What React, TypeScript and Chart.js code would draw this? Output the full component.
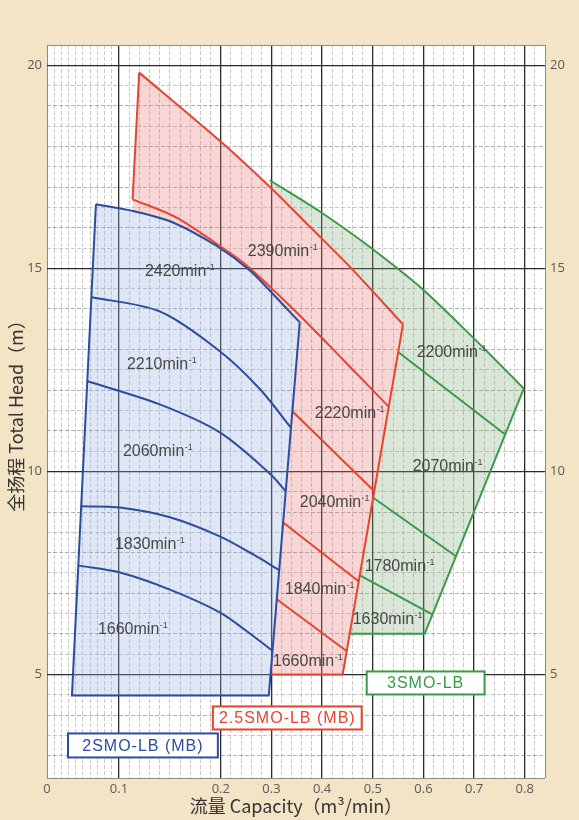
import React, { useEffect, useRef } from 'react';
import { Chart, registerables, LinearScale } from 'chart.js';

// ---------------- axis ticks ----------------
const xTickValues = [0, 0.1, 0.2, 0.3, 0.4, 0.5, 0.6, 0.7, 0.8];
const xTickLabels = ['0', '0.1', '0.2', '0.3', '0.4', '0.5', '0.6', '0.7', '0.8'];
const yTickValues = [5, 10, 15, 20];
const yTickLabels = ['5', '10', '15', '20'];
const xMin = 0;
const xMax = 0.84;
const yMin = 2.45;
const yMax = 20.5;

// the capacity axis of this chart paper is not uniform: relative length of each stretch
const xBreakValues = [0, 0.1, 0.2, 0.84];
const xBreakLengths = [0, 72, 174, 498.5];

// ---------------- 2SMO-LB (MB) ----------------
const blue2420 = [[0.068, 16.58], [0.114, 16.41], [0.153, 16.13], [0.196, 15.55], [0.2572, 14.95], [0.3065, 14.32], [0.3558, 13.67]];
const blue2210 = [[0.0622, 14.29], [0.14, 13.94], [0.199, 12.96], [0.277, 12.03], [0.3394, 11.06]];
const blue2060 = [[0.0565, 12.22], [0.14, 11.65], [0.199, 10.96], [0.2966, 9.95], [0.3282, 9.51]];
const blue1830 = [[0.0475, 9.14], [0.101, 9.11], [0.15, 8.87], [0.199, 8.4], [0.2631, 7.96], [0.3164, 7.56]];
const blue1660 = [[0.0436, 7.68], [0.101, 7.51], [0.15, 7.09], [0.199, 6.53], [0.2507, 6.07], [0.301, 5.59]];
const blueFrame = [[0.068, 16.58], [0.0347, 4.48], [0.2947, 4.48], [0.3558, 13.67]];
const blueRpm: [string, number, number][] = [['2420', 0.1255, 14.93], ['2210', 0.1078, 12.64], ['2060', 0.1039, 10.49], ['1830', 0.0944, 8.2], ['1660', 0.0708, 6.11]];

// ---------------- 2.5SMO-LB (MB) ----------------
const red2390 = [[0.1199, 19.82], [0.199, 18.14], [0.298, 16.99], [0.3755, 16.03], [0.4578, 15.0], [0.5596, 13.62]];
const red2220 = [[0.1134, 16.7], [0.1566, 16.25], [0.199, 15.55], [0.2513, 15.07], [0.3558, 13.84], [0.4406, 12.76], [0.531, 11.6]];
const red2040 = [[0.3412, 11.48], [0.503, 9.51]];
const red1840 = [[0.3231, 8.74], [0.4724, 7.29]];
const red1660 = [[0.3105, 6.85], [0.4487, 5.57]];
const redLeft = [[0.1199, 19.82], [0.1134, 16.7]];
const redFrame = [[0.5596, 13.62], [0.4406, 5.0], [0.298, 5.0]];
const redRpm: [string, number, number][] = [['2390', 0.2533, 15.42], ['2220', 0.3854, 11.43], ['2040', 0.3558, 9.24], ['1840', 0.3262, 7.09], ['1660', 0.3026, 5.32]];

// ---------------- 3SMO-LB ----------------
const green2200 = [[0.2966, 17.17], [0.3953, 16.4], [0.4742, 15.71], [0.5465, 15.02], [0.599, 14.48], [0.6714, 13.62], [0.737, 12.81], [0.798, 12.04]];
const green2070 = [[0.55, 12.94], [0.7615, 10.91]];
const green1780 = [[0.5008, 9.35], [0.6643, 7.91]];
const green1630 = [[0.4744, 7.44], [0.6175, 6.48]];
const greenFrame = [[0.798, 12.04], [0.6024, 6.0], [0.4546, 6.0]];
const greenRpm: [string, number, number][] = [['2200', 0.5866, 12.93], ['2070', 0.5787, 10.12], ['1780', 0.484, 7.66], ['1630', 0.4604, 6.35]];

// ---------------- model tags (x0, x1, y0, y1 in axis units) ----------------
const modelNames = ['2SMO-LB (MB)', '2.5SMO-LB (MB)', '3SMO-LB'];
const modelTagBoxes = [[0.0292, 0.1971, 2.956, 3.547], [0.1922, 0.4781, 3.645, 4.212], [0.488, 0.7207, 4.507, 5.074]];

// ---------------- styles ----------------
const BLUE = '#2b4c9f';
const RED = '#e8432f';
const GREEN = '#3a9b47';
const BLUE_FILL = 'rgba(150,175,225,0.3)';
const RED_FILL = 'rgba(232,120,120,0.3)';
const GREEN_FILL = 'rgba(130,172,125,0.3)';
const PAPER = '#f2e4c4';
const LABEL_FONT = '"Liberation Sans", Arial, sans-serif';
const CJK_FONT = '"Noto Sans CJK SC", "Noto Sans", sans-serif';

// ---------------- piecewise capacity scale ----------------
const totalLen = xBreakLengths[xBreakLengths.length - 1];
function xToFrac(v: number): number {
  const n = xBreakValues.length;
  let i = 1;
  while (i < n - 1 && v > xBreakValues[i]) i++;
  const t = (v - xBreakValues[i - 1]) / (xBreakValues[i] - xBreakValues[i - 1]);
  return (xBreakLengths[i - 1] + t * (xBreakLengths[i] - xBreakLengths[i - 1])) / totalLen;
}
function fracToX(f: number): number {
  const L = f * totalLen;
  const n = xBreakLengths.length;
  let i = 1;
  while (i < n - 1 && L > xBreakLengths[i]) i++;
  const t = (L - xBreakLengths[i - 1]) / (xBreakLengths[i] - xBreakLengths[i - 1]);
  return xBreakValues[i - 1] + t * (xBreakValues[i] - xBreakValues[i - 1]);
}

class PaperScale extends LinearScale {
  static id = 'paperCapacity';
  getPixelForValue(value: any) {
    if (value === null || value === undefined || Number.isNaN(+value)) return NaN;
    return this.getPixelForDecimal(xToFrac(+value));
  }
  getValueForPixel(pixel: number) {
    return fracToX(this.getDecimalForPixel(pixel));
  }
}

Chart.register(...registerables, PaperScale);

// grid values of the chart paper
const xGridValues: number[] = [];
for (let i = 0; i <= 20; i++) xGridValues.push(+(i * 0.01).toFixed(3));
for (let i = 11; i <= 42; i++) xGridValues.push(+(i * 0.02).toFixed(3));
const yGridValues: number[] = [yMin];
for (let v = 3; v <= yMax + 1e-9; v += 0.5) yGridValues.push(v);

const near = (a: number, b: number) => Math.abs(a - b) < 1e-6;
const xKind = (v: number) =>
  near(v, xMin) || near(v, xMax) ? 'frame' : xTickValues.some((t) => near(t, v)) ? 'major' : 'minor';
const yKind = (v: number) =>
  near(v, yMin) || near(v, yMax) ? 'frame' : yTickValues.some((t) => near(t, v)) ? 'major' : Number.isInteger(v) ? 'unit' : 'minor';

const gridColor = (k: string) =>
  k === 'major' ? '#2a2a2a' : k === 'frame' ? '#8a8a8a' : k === 'unit' ? 'rgba(100,100,100,0.5)' : 'rgba(120,120,120,0.4)';
const gridWidth = (k: string) => (k === 'major' ? 1.3 : 1);
const gridDash = (k: string) => (k === 'major' || k === 'frame' ? [] : [4, 2]);

const toPts = (arr: number[][]) => arr.map(([x, y]) => ({ x, y }));

function lineDs(arr: number[][], color: string, order: number, curved: boolean) {
  return {
    data: toPts(arr),
    borderColor: color,
    backgroundColor: color,
    borderWidth: 2,
    fill: false,
    pointRadius: 0,
    pointHitRadius: 0,
    tension: curved ? 0.3 : 0,
    order,
  };
}
function areaDs(arr: number[][], fillColor: string, order: number) {
  return {
    data: toPts(arr),
    borderColor: 'rgba(0,0,0,0)',
    backgroundColor: fillColor,
    borderWidth: 0,
    fill: 'shape',
    pointRadius: 0,
    pointHitRadius: 0,
    tension: 0,
    order,
  };
}

const blueArea = [...blue2420, blueFrame[2], blueFrame[1]];
const redArea = [
  ...red2390,
  redFrame[1],
  redFrame[2],
  ...blue2420.filter((p) => p[0] >= 0.114).slice().reverse(),
  red2220[0],
];
const greenArea = [
  ...green2200,
  greenFrame[1],
  greenFrame[2],
  ...red2390.filter((p) => p[0] >= 0.298).slice().reverse(),
];

const paperPlugin = {
  id: 'paperBackground',
  beforeDraw(chart: any) {
    const { ctx, chartArea: a } = chart;
    ctx.save();
    ctx.fillStyle = PAPER;
    ctx.fillRect(0, 0, chart.width, chart.height);
    ctx.fillStyle = '#ffffff';
    ctx.fillRect(a.left, a.top, a.right - a.left, a.bottom - a.top);
    ctx.restore();
  },
};

const textPlugin = {
  id: 'curveTexts',
  afterDatasetsDraw(chart: any) {
    const { ctx } = chart;
    const xs = chart.scales.x;
    const ys = chart.scales.y;
    ctx.save();
    const all = [...blueRpm, ...redRpm, ...greenRpm];
    for (const [rpm, vx, vy] of all) {
      const px = xs.getPixelForValue(vx);
      const py = ys.getPixelForValue(vy);
      ctx.fillStyle = '#474747';
      ctx.textAlign = 'left';
      ctx.textBaseline = 'middle';
      ctx.font = `16px ${LABEL_FONT}`;
      const main = rpm + 'min';
      ctx.fillText(main, px, py);
      const w = ctx.measureText(main).width;
      ctx.font = `9px ${LABEL_FONT}`;
      ctx.fillText('-1', px + w + 0.5, py - 4);
    }
    const colors = [BLUE, RED, GREEN];
    modelTagBoxes.forEach((b, i) => {
      const x0 = xs.getPixelForValue(b[0]);
      const x1 = xs.getPixelForValue(b[1]);
      const y0 = ys.getPixelForValue(b[2]);
      const y1 = ys.getPixelForValue(b[3]);
      ctx.fillStyle = '#ffffff';
      ctx.fillRect(x0, y1, x1 - x0, y0 - y1);
      ctx.strokeStyle = colors[i];
      ctx.lineWidth = 2;
      ctx.strokeRect(x0, y1, x1 - x0, y0 - y1);
      ctx.fillStyle = colors[i];
      ctx.font = `16px ${LABEL_FONT}`;
      try {
        (ctx as any).letterSpacing = '1px';
      } catch (e) {}
      ctx.textAlign = 'center';
      ctx.textBaseline = 'middle';
      ctx.fillText(modelNames[i], (x0 + x1) / 2, (y0 + y1) / 2 + 1);
      try {
        (ctx as any).letterSpacing = '0px';
      } catch (e) {}
    });
    ctx.restore();
  },
};

export default function App() {
  const ref = useRef<HTMLCanvasElement>(null);
  useEffect(() => {
    const canvas = ref.current;
    if (!canvas) return;
    const datasets: any[] = [
      areaDs(greenArea, GREEN_FILL, 60),
      areaDs(redArea, RED_FILL, 50),
      areaDs(blueArea, BLUE_FILL, 40),
      lineDs(green2200, GREEN, 30, true),
      lineDs(green2070, GREEN, 30, false),
      lineDs(green1780, GREEN, 30, false),
      lineDs(green1630, GREEN, 30, false),
      lineDs(greenFrame, GREEN, 30, false),
      lineDs(red2390, RED, 20, true),
      lineDs(red2220, RED, 20, true),
      lineDs(red2040, RED, 20, false),
      lineDs(red1840, RED, 20, false),
      lineDs(red1660, RED, 20, false),
      lineDs(redLeft, RED, 20, false),
      lineDs(redFrame, RED, 20, false),
      lineDs(blue2420, BLUE, 10, true),
      lineDs(blue2210, BLUE, 10, true),
      lineDs(blue2060, BLUE, 10, true),
      lineDs(blue1830, BLUE, 10, true),
      lineDs(blue1660, BLUE, 10, true),
      lineDs(blueFrame, BLUE, 10, false),
    ];
    const tickFont = { family: '"Open Sans", "Noto Sans", sans-serif', size: 13 };
    const chart = new Chart(canvas, {
      type: 'line',
      data: { datasets },
      options: {
        responsive: false,
        animation: false,
        layout: { padding: { top: 45, left: 0, right: 0, bottom: 0 } },
        plugins: { legend: { display: false }, tooltip: { enabled: false } },
        elements: { point: { radius: 0 } },
        scales: {
          x: {
            type: 'paperCapacity' as any,
            min: xMin,
            max: xMax,
            afterBuildTicks: (s: any) => {
              s.ticks = xGridValues.map((v) => ({ value: v }));
            },
            afterFit: (s: any) => {
              s.height = 42;
            },
            grid: {
              drawTicks: false,
              color: (c: any) => gridColor(xKind(c.tick ? c.tick.value : 0)),
              lineWidth: (c: any) => gridWidth(xKind(c.tick ? c.tick.value : 0)),
            },
            border: {
              display: false,
              dash: (c: any) => gridDash(xKind(c.tick ? c.tick.value : 0)),
            },
            ticks: {
              autoSkip: false,
              maxRotation: 0,
              minRotation: 0,
              padding: 3,
              color: '#5a5a5a',
              font: tickFont,
              callback: (v: any) => {
                const i = xTickValues.findIndex((t) => near(t, Number(v)));
                return i >= 0 ? xTickLabels[i] : '';
              },
            },
            title: {
              display: true,
              text: '流量 Capacity（m³/min）',
              color: '#333333',
              font: { family: CJK_FONT, size: 18 },
              padding: { top: 0, bottom: 3 },
            },
          },
          y: {
            type: 'linear',
            position: 'left',
            min: yMin,
            max: yMax,
            afterBuildTicks: (s: any) => {
              s.ticks = yGridValues.map((v) => ({ value: v }));
            },
            afterFit: (s: any) => {
              s.width = 47;
            },
            grid: {
              drawTicks: false,
              color: (c: any) => gridColor(yKind(c.tick ? c.tick.value : 0)),
              lineWidth: (c: any) => gridWidth(yKind(c.tick ? c.tick.value : 0)),
            },
            border: {
              display: false,
              dash: (c: any) => gridDash(yKind(c.tick ? c.tick.value : 0)),
            },
            ticks: {
              autoSkip: false,
              padding: 5,
              color: '#5a5a5a',
              font: tickFont,
              callback: (v: any) => {
                const i = yTickValues.findIndex((t) => near(t, Number(v)));
                return i >= 0 ? yTickLabels[i] : '';
              },
            },
            title: {
              display: true,
              text: '全扬程 Total Head（m）',
              color: '#333333',
              font: { family: CJK_FONT, size: 18 },
              padding: { top: 5, bottom: 0 },
            },
          },
          y2: {
            type: 'linear',
            position: 'right',
            min: yMin,
            max: yMax,
            afterBuildTicks: (s: any) => {
              s.ticks = yTickValues.map((v) => ({ value: v }));
            },
            afterFit: (s: any) => {
              s.width = 34;
            },
            grid: { drawOnChartArea: false, drawTicks: false },
            border: { display: false },
            ticks: {
              autoSkip: false,
              padding: 5,
              color: '#5a5a5a',
              font: tickFont,
              callback: (v: any) => {
                const i = yTickValues.findIndex((t) => near(t, Number(v)));
                return i >= 0 ? yTickLabels[i] : '';
              },
            },
          },
        },
      } as any,
      plugins: [paperPlugin, textPlugin],
    });
    return () => chart.destroy();
  }, []);
  return (
    <div style={{ position: 'absolute', left: 0, top: 0, width: 579, height: 820, background: PAPER }}>
      <canvas ref={ref} width={579} height={820} style={{ display: 'block', width: 579, height: 820 }} />
    </div>
  );
}
